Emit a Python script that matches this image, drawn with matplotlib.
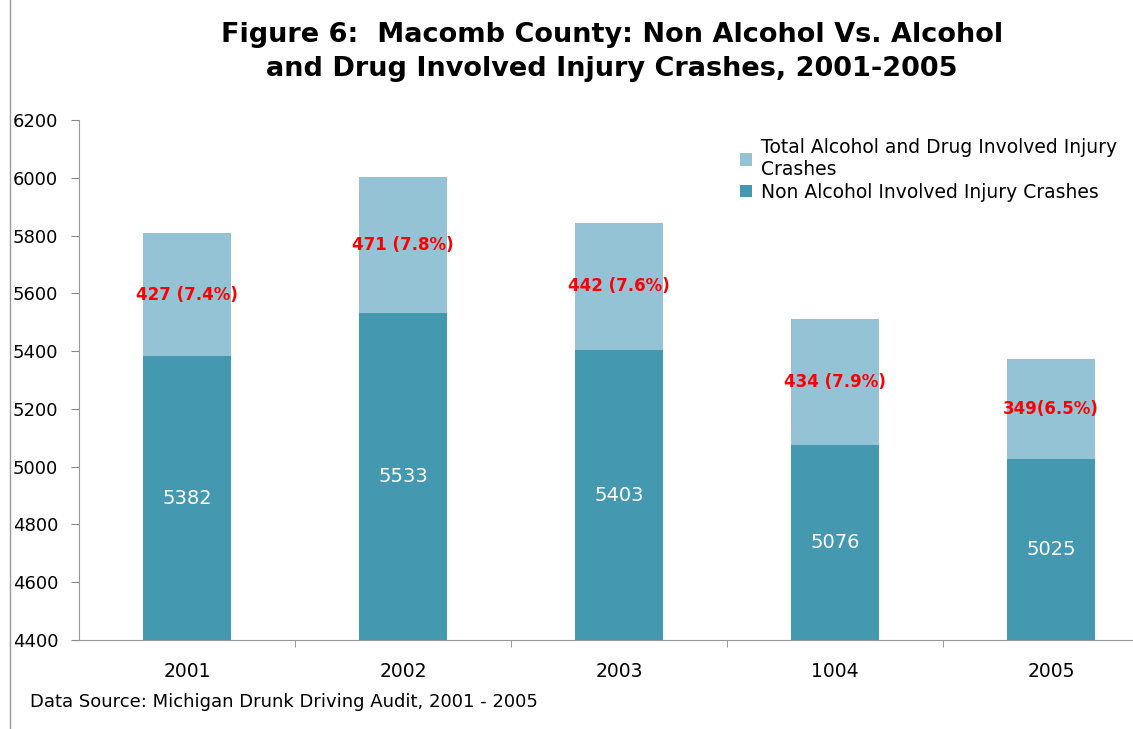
import numpy as np
import matplotlib.pyplot as plt
from matplotlib.lines import Line2D

plt.rcParams['font.family'] = ['DejaVu Sans']

years = ['2001', '2002', '2003', '1004', '2005']
non_alcohol = [5382, 5533, 5403, 5076, 5025]
alcohol = [427, 471, 442, 434, 349]
alcohol_labels = ['427 (7.4%)', '471 (7.8%)', '442 (7.6%)', '434 (7.9%)', '349(6.5%)']

dark = '#4499B1'
light = '#93C3D5'
base = 4400

fig = plt.figure(figsize=(11.33, 7.29), dpi=100)
ax = fig.add_axes([79 / 1133, 1 - 640 / 729, 1080 / 1133, 520 / 729])

ind = np.arange(len(years))
w = 0.41
p1 = ax.bar(ind, np.array(non_alcohol) - base, bottom=base, width=w, color=dark)
p2 = ax.bar(ind, alcohol, bottom=non_alcohol, width=w, color=light)

for i in ind:
    ax.text(i, (base + non_alcohol[i]) / 2, str(non_alcohol[i]), ha='center', va='center',
            color='white', fontsize=14)
    ax.text(i, non_alcohol[i] + alcohol[i] / 2, alcohol_labels[i], ha='center', va='center',
            color='#FF0000', fontsize=12, fontweight='bold')

ax.set_xlim(-0.5, 4.5)
ax.set_ylim(4400, 6200)
ax.set_yticks(np.arange(4400, 6201, 200))
ax.set_xticks(ind)
ax.set_xticklabels(years)
ax.set_xticks(np.arange(0.5, 4.5, 1), minor=True)
ax.tick_params(axis='x', which='major', length=0, pad=16, labelsize=13.5)
ax.tick_params(axis='x', which='minor', length=5, color='#888888')
ax.tick_params(axis='y', length=6, color='#888888', labelsize=13, pad=9)
for s in ['top', 'right']:
    ax.spines[s].set_visible(False)
for s in ['left', 'bottom']:
    ax.spines[s].set_color('#999999')

ax.legend((p2[0], p1[0]),
          ('Total Alcohol and Drug Involved Injury\nCrashes', 'Non Alcohol Involved Injury Crashes'),
          loc='upper left', bbox_to_anchor=(0.605, 0.98), frameon=False, fontsize=13.5,
          handlelength=0.65, handleheight=0.65, handletextpad=0.5, labelspacing=0.2,
          borderaxespad=0.)

fig.text(612 / 1133, 1 - 52 / 729,
         'Figure 6:  Macomb County: Non Alcohol Vs. Alcohol\nand Drug Involved Injury Crashes, 2001-2005',
         ha='center', va='center', fontsize=19.5, fontweight='bold', linespacing=1.45)
fig.text(30 / 1133, 1 - 702 / 729, 'Data Source: Michigan Drunk Driving Audit, 2001 - 2005',
         ha='left', va='center', fontsize=13)

fig.add_artist(Line2D([10 / 1133, 10 / 1133], [0, 1], color='#999999', lw=1))

fig.savefig('out.png', dpi=100)
